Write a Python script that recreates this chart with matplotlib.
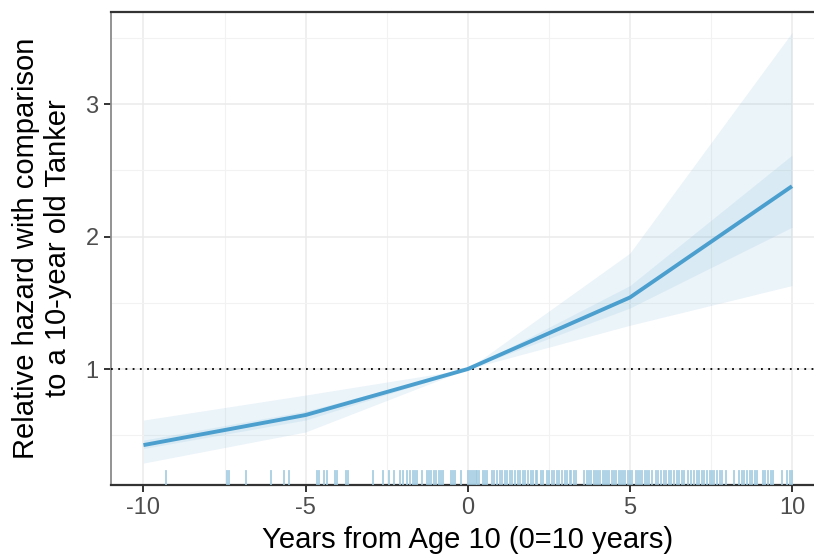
import matplotlib
matplotlib.use("Agg")
import matplotlib.pyplot as plt
from matplotlib.ticker import MultipleLocator

# Spline knots (years from age 10) and relative hazard estimates
years = [-10, -5, 0, 5, 10]
hazard = [0.426, 0.653, 1.0, 1.54, 2.38]
# Inner band
inner_lo = [0.40, 0.615, 1.0, 1.46, 2.07]
inner_hi = [0.464, 0.683, 1.0, 1.63, 2.615]
# Outer band
outer_lo = [0.29, 0.525, 1.0, 1.33, 1.63]
outer_hi = [0.615, 0.804, 1.0, 1.875, 3.54]

# Observed ages (years from 10) shown as a rug
rug_years = [
    -9.32, -7.42, -7.35, -6.84, -6.08, -5.68, -5.51, -4.66, -4.58, -4.43,
    -4.35, -4.09, -4.02, -3.76, -3.68, -2.93, -2.60, -2.43, -2.26, -2.09,
    -2.01, -1.86, -1.78, -1.70, -1.62, -1.56, -1.42, -1.27, -1.20, -1.12,
    -1.04, -0.97, -0.90, -0.83, -0.76, -0.53, -0.45, -0.38, -0.20,
    0.00, 0.06, 0.12, 0.18, 0.24, 0.30, 0.36, 0.46, 0.52, 0.58,
    0.74, 0.82, 0.90, 0.98, 1.05, 1.14, 1.22, 1.30, 1.38, 1.46,
    1.54, 1.62, 1.70, 1.78, 1.86, 1.94, 2.02, 2.10, 2.15, 2.25,
    2.32, 2.43, 2.51, 2.59, 2.67, 2.75, 2.83, 2.91, 2.99, 3.07,
    3.14, 3.20, 3.28, 3.35, 3.60, 3.67, 3.74, 3.81, 3.88, 3.95,
    4.02, 4.09, 4.16, 4.23, 4.30, 4.37, 4.44, 4.51, 4.58, 4.65,
    4.72, 4.79, 4.86, 4.93, 5.00, 5.08, 5.18, 5.24, 5.30, 5.38,
    5.46, 5.54, 5.60, 5.68, 5.80, 5.88, 5.96, 6.04, 6.10, 6.20,
    6.28, 6.36, 6.44, 6.52, 6.60, 6.68, 6.80, 6.90, 6.98, 7.06,
    7.14, 7.22, 7.30, 7.38, 7.46, 7.54, 7.60, 7.70, 7.78, 7.85,
    7.97, 8.20, 8.37, 8.45, 8.53, 8.61, 8.69, 8.77, 8.85, 8.92,
    9.10, 9.18, 9.26, 9.34, 9.42, 9.70, 9.85, 9.93, 10.00,
]

x_ticks = [-10, -5, 0, 5, 10]
y_ticks = [1, 2, 3]
x_label = "Years from Age 10 (0=10 years)"
y_label = "Relative hazard with comparison\nto a 10-year old Tanker"

plt.rcParams["font.family"] = ["Liberation Sans", "DejaVu Sans"]
plt.rcParams["axes.unicode_minus"] = False

fig = plt.figure(figsize=(8.14, 5.57), dpi=100)
ax = fig.add_axes([0.1364, 0.1293, 0.8764, 0.8492])

ax.set_xlim(-11, 11)
ax.set_ylim(0.125, 3.695)

# grid
ax.xaxis.set_major_locator(MultipleLocator(5))
ax.xaxis.set_minor_locator(MultipleLocator(2.5))
ax.yaxis.set_major_locator(MultipleLocator(1))
ax.yaxis.set_minor_locator(MultipleLocator(0.5))
ax.set_xticks(x_ticks)
ax.set_yticks(y_ticks)
ax.grid(True, which="major", color="#ebebeb", linewidth=1.1, zorder=0)
ax.grid(True, which="minor", color="#f2f2f2", linewidth=0.8, zorder=0)
ax.set_axisbelow(True)

band_color = "#6baed6"
ax.fill_between(years, outer_lo, outer_hi, color=band_color, alpha=0.13, linewidth=0, zorder=2)
ax.fill_between(years, inner_lo, inner_hi, color=band_color, alpha=0.13, linewidth=0, zorder=2)
ax.plot(years, hazard, color="#4b9fce", linewidth=2.8, solid_capstyle="butt", zorder=4)

ax.axhline(1, color="black", linestyle=(0, (1, 3)), linewidth=1.3, zorder=3)

# rug along the bottom of the panel
for xv in rug_years:
    ax.axvline(xv, ymin=0.0, ymax=0.03, color="#9ecae1", linewidth=1.3, alpha=0.9, zorder=3)

ax.spines["right"].set_visible(False)
ax.spines["top"].set_color("#333333")
ax.spines["top"].set_linewidth(1.6)
ax.spines["bottom"].set_color("#333333")
ax.spines["bottom"].set_linewidth(1.6)
ax.spines["left"].set_color("#8a8a8a")
ax.spines["left"].set_linewidth(1.3)

ax.tick_params(axis="both", which="major", direction="out", length=5, width=1.4,
               color="#333333", labelcolor="#4d4d4d", labelsize=17, pad=4)
ax.tick_params(axis="both", which="minor", length=0)

ax.set_xlabel(x_label, fontsize=21, color="black", labelpad=5)
ax.set_ylabel(y_label, fontsize=21, color="black", labelpad=10, linespacing=1.15)

fig.savefig("out.png", dpi=100)
